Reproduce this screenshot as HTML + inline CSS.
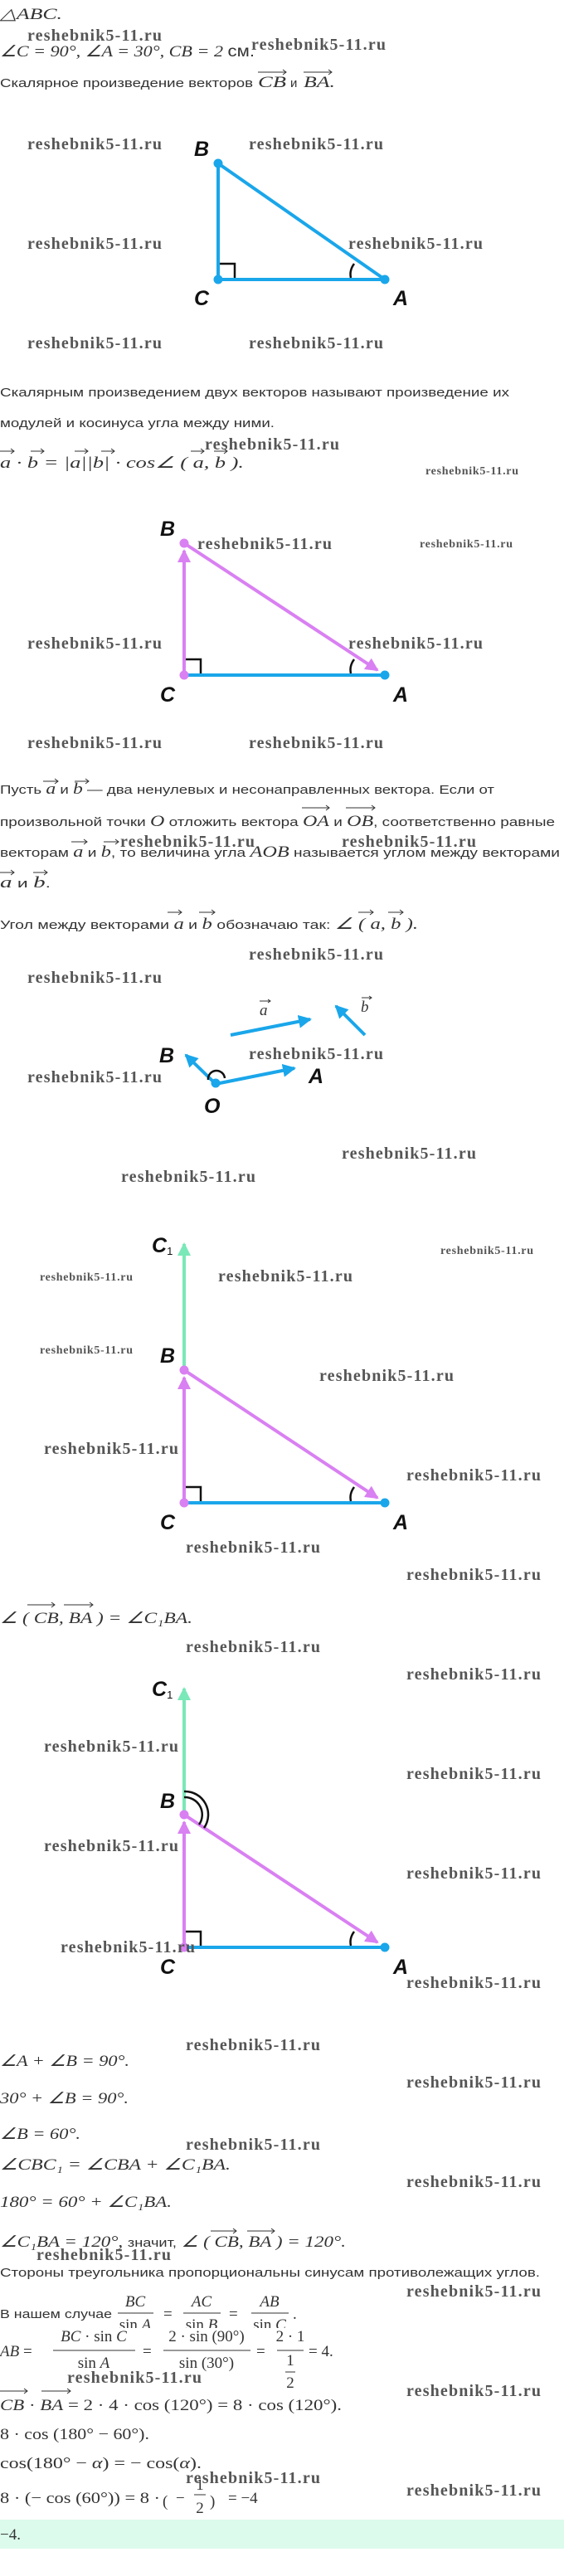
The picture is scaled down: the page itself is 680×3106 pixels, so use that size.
<!DOCTYPE html>
<html><head><meta charset="utf-8">
<style>
html,body{margin:0;padding:0;background:#fff;}
svg{display:block;}
.s{font-family:"Liberation Sans",sans-serif;font-size:15px;fill:#333;}
.m{font-family:"Liberation Serif",serif;font-size:19px;fill:#333;}
.i{font-style:italic;}
.w{font-family:"Liberation Serif",serif;font-weight:bold;font-size:20px;fill:#555;}
.ws{font-family:"Liberation Serif",serif;font-weight:bold;font-size:14px;fill:#555;}
.l{font-family:"Liberation Sans Narrow","Liberation Sans",sans-serif;font-weight:bold;font-style:italic;font-size:25px;fill:#111;}
.v{stroke:#333;stroke-width:1;fill:none;}
</style></head><body>
<svg width="680" height="3106" viewBox="0 0 680 3106" xmlns="http://www.w3.org/2000/svg">
<defs>
<marker id="hb" markerWidth="4" markerHeight="4" refX="3.5" refY="2" orient="auto" markerUnits="strokeWidth"><path d="M0,0 L4,2 L0,4 Z" fill="#1aa6ea"/></marker>
<marker id="hp" markerWidth="4" markerHeight="4" refX="3.5" refY="2" orient="auto" markerUnits="strokeWidth"><path d="M0,0 L4,2 L0,4 Z" fill="#d980f2"/></marker>
<marker id="hg" markerWidth="4" markerHeight="4" refX="3.5" refY="2" orient="auto" markerUnits="strokeWidth"><path d="M0,0 L4,2 L0,4 Z" fill="#7ae8b8"/></marker>
<clipPath id="c1"><rect x="0" y="2760" width="680" height="47"/></clipPath>
<clipPath id="c2"><rect x="0" y="2807" width="680" height="72"/></clipPath>
</defs>

<text class="m i" x="0" y="23" textLength="75" lengthAdjust="spacingAndGlyphs">△ABC.</text>
<text class="m i" x="0" y="68" textLength="307" lengthAdjust="spacingAndGlyphs">∠C = 90°, ∠A = 30°, CB = 2 <tspan font-style="normal" font-family="Liberation Sans">см.</tspan></text>
<text class="s" x="0" y="105" textLength="305" lengthAdjust="spacingAndGlyphs">Скалярное произведение векторов</text>
<text class="m i" x="311" y="105" textLength="34" lengthAdjust="spacingAndGlyphs">CB</text>
<text class="s" x="350" y="105">и</text>
<text class="m i" x="366" y="105" textLength="38" lengthAdjust="spacingAndGlyphs">BA.</text>
<path class="v" d="M311 87 h34 m-4 -3 l4 3 l-4 3 M366 87 h34 m-4 -3 l4 3 l-4 3"/>

<g stroke="#1aa6ea" stroke-width="4" fill="none">
<line x1="263" y1="197" x2="263" y2="337"/><line x1="263" y1="337" x2="464" y2="337"/><line x1="263" y1="197" x2="464" y2="337"/>
</g>
<g fill="#1aa6ea"><circle cx="263" cy="197" r="5.5"/><circle cx="263" cy="337" r="5.5"/><circle cx="464" cy="337" r="5.5"/></g>
<path d="M265 318 h18 v17" stroke="#111" stroke-width="2.5" fill="none"/>
<path d="M427 318 Q421 326 423 335" stroke="#111" stroke-width="2.5" fill="none"/>
<text class="l" x="234" y="188">B</text><text class="l" x="234" y="368">C</text><text class="l" x="474" y="368">A</text>

<text class="s" x="0" y="478" textLength="614" lengthAdjust="spacingAndGlyphs">Скалярным произведением двух векторов называют произведение их</text>
<text class="s" x="0" y="515" textLength="331" lengthAdjust="spacingAndGlyphs">модулей и косинуса угла между ними.</text>
<text class="m i" x="0" y="564" textLength="294" lengthAdjust="spacingAndGlyphs">a · b = |a||b| · cos∠ ( a, b ).</text>
<path class="v" d="M0 544 h17 m-4 -3 l4 3 l-4 3 M37 544 h16 m-4 -3 l4 3 l-4 3 M90 544 h16 m-4 -3 l4 3 l-4 3 M122 544 h16 m-4 -3 l4 3 l-4 3 M230 544 h16 m-4 -3 l4 3 l-4 3 M258 544 h16 m-4 -3 l4 3 l-4 3"/>

<line x1="222" y1="814" x2="464" y2="814" stroke="#1aa6ea" stroke-width="4"/>
<line x1="222" y1="814" x2="222" y2="664" stroke="#d980f2" stroke-width="4" marker-end="url(#hp)"/>
<line x1="222" y1="655" x2="455" y2="808" stroke="#d980f2" stroke-width="4" marker-end="url(#hp)"/>
<circle cx="222" cy="655" r="5.5" fill="#d980f2"/><circle cx="222" cy="814" r="5.5" fill="#d980f2"/><circle cx="464" cy="814" r="5.5" fill="#1aa6ea"/>
<path d="M224 795 h18 v17" stroke="#111" stroke-width="2.5" fill="none"/>
<path d="M427 795 Q421 803 423 812" stroke="#111" stroke-width="2.5" fill="none"/>
<text class="l" x="193" y="646">B</text><text class="l" x="193" y="846">C</text><text class="l" x="474" y="846">A</text>

<text class="s" x="0" y="957" textLength="596" lengthAdjust="spacingAndGlyphs">Пусть <tspan class="m i">a</tspan> и <tspan class="m i">b</tspan> — два ненулевых и несонаправленных вектора. Если от</text>
<path class="v" d="M52 942 h18 m-4 -3 l4 3 l-4 3 M90 942 h17 m-4 -3 l4 3 l-4 3"/>
<text class="s" x="0" y="996" textLength="669" lengthAdjust="spacingAndGlyphs">произвольной точки <tspan class="m i">O</tspan> отложить вектора <tspan class="m i">OA</tspan> и <tspan class="m i">OB</tspan>, соответственно равные</text>
<path class="v" d="M364 974 h33 m-4 -3 l4 3 l-4 3 M417 974 h35 m-4 -3 l4 3 l-4 3"/>
<text class="s" x="0" y="1033" textLength="675" lengthAdjust="spacingAndGlyphs">векторам <tspan class="m i">a</tspan> и <tspan class="m i">b</tspan>, то величина угла <tspan class="m i">AOB</tspan> называется углом между векторами</text>
<path class="v" d="M86 1015 h19 m-4 -3 l4 3 l-4 3 M125 1015 h18 m-4 -3 l4 3 l-4 3"/>
<text class="s" x="0" y="1070" textLength="61" lengthAdjust="spacingAndGlyphs"><tspan class="m i">a</tspan> и <tspan class="m i">b</tspan>.</text>
<path class="v" d="M0 1052 h17 m-4 -3 l4 3 l-4 3 M40 1052 h17 m-4 -3 l4 3 l-4 3"/>
<text class="s" x="0" y="1120" textLength="504" lengthAdjust="spacingAndGlyphs">Угол между векторами <tspan class="m i">a</tspan> и <tspan class="m i">b</tspan> обозначаю так: <tspan class="m i">∠ ( a, b ).</tspan></text>
<path class="v" d="M202 1100 h17 m-4 -3 l4 3 l-4 3 M240 1100 h19 m-4 -3 l4 3 l-4 3 M432 1100 h18 m-4 -3 l4 3 l-4 3 M468 1100 h18 m-4 -3 l4 3 l-4 3"/>

<g stroke="#1aa6ea" stroke-width="4" marker-end="url(#hb)">
<line x1="278" y1="1248" x2="374" y2="1229"/>
<line x1="440" y1="1248" x2="405" y2="1213"/>
<line x1="260" y1="1307" x2="355" y2="1288"/>
<line x1="260" y1="1307" x2="224" y2="1272"/>
</g>
<circle cx="260" cy="1306" r="5.5" fill="#1aa6ea"/>
<path d="M251 1302 A9 9 0 0 1 271 1300" stroke="#111" stroke-width="2.5" fill="none"/>
<text class="m i" x="313" y="1224">a</text><path class="v" d="M313 1207 h13 m-3 -2 l3 2 l-3 2"/>
<text class="m i" x="435" y="1220">b</text><path class="v" d="M436 1203 h12 m-3 -2 l3 2 l-3 2"/>
<text class="l" x="192" y="1281">B</text><text class="l" x="372" y="1306">A</text><text class="l" x="246" y="1342">O</text>

<line x1="222" y1="1812" x2="464" y2="1812" stroke="#1aa6ea" stroke-width="4"/>
<line x1="222" y1="1652" x2="222" y2="1500" stroke="#7ae8b8" stroke-width="4" marker-end="url(#hg)"/>
<line x1="222" y1="1812" x2="222" y2="1661" stroke="#d980f2" stroke-width="4" marker-end="url(#hp)"/>
<line x1="222" y1="1652" x2="455" y2="1806" stroke="#d980f2" stroke-width="4" marker-end="url(#hp)"/>
<circle cx="222" cy="1652" r="5.5" fill="#d980f2"/><circle cx="222" cy="1812" r="5.5" fill="#d980f2"/><circle cx="464" cy="1812" r="5.5" fill="#1aa6ea"/>
<path d="M224 1793 h18 v17" stroke="#111" stroke-width="2.5" fill="none"/>
<path d="M427 1793 Q421 1801 423 1810" stroke="#111" stroke-width="2.5" fill="none"/>
<text class="l" x="183" y="1510">C<tspan font-size="13" font-style="normal" font-weight="normal" dy="3">1</tspan></text>
<text class="l" x="193" y="1643">B</text><text class="l" x="193" y="1844">C</text><text class="l" x="474" y="1844">A</text>

<text class="m i" x="0" y="1957" textLength="232" lengthAdjust="spacingAndGlyphs">∠ ( CB, BA ) = ∠C₁BA.</text>
<path class="v" d="M33 1935 h33 m-4 -3 l4 3 l-4 3 M77 1935 h35 m-4 -3 l4 3 l-4 3"/>

<line x1="222" y1="2348" x2="464" y2="2348" stroke="#1aa6ea" stroke-width="4"/>
<line x1="222" y1="2188" x2="222" y2="2036" stroke="#7ae8b8" stroke-width="4" marker-end="url(#hg)"/>
<line x1="222" y1="2348" x2="222" y2="2197" stroke="#d980f2" stroke-width="4" marker-end="url(#hp)"/>
<line x1="222" y1="2188" x2="455" y2="2342" stroke="#d980f2" stroke-width="4" marker-end="url(#hp)"/>
<circle cx="222" cy="2188" r="5.5" fill="#d980f2"/><circle cx="222" cy="2348" r="5.5" fill="#d980f2"/><circle cx="464" cy="2348" r="5.5" fill="#1aa6ea"/>
<path d="M222 2167 A21 21 0 0 1 240 2200 M222 2160 A28 28 0 0 1 246 2204" stroke="#111" stroke-width="2.5" fill="none"/>
<path d="M224 2329 h18 v17" stroke="#111" stroke-width="2.5" fill="none"/>
<path d="M427 2329 Q421 2337 423 2346" stroke="#111" stroke-width="2.5" fill="none"/>
<text class="l" x="183" y="2045">C<tspan font-size="13" font-style="normal" font-weight="normal" dy="3">1</tspan></text>
<text class="l" x="193" y="2180">B</text><text class="l" x="193" y="2380">C</text><text class="l" x="474" y="2380">A</text>

<text class="m i" x="0" y="2491" textLength="156" lengthAdjust="spacingAndGlyphs">∠A + ∠B = 90°.</text>
<text class="m i" x="0" y="2536" textLength="155" lengthAdjust="spacingAndGlyphs">30° + ∠B = 90°.</text>
<text class="m i" x="0" y="2579" textLength="97" lengthAdjust="spacingAndGlyphs">∠B = 60°.</text>
<text class="m i" x="0" y="2616" textLength="278" lengthAdjust="spacingAndGlyphs">∠CBC₁ = ∠CBA + ∠C₁BA.</text>
<text class="m i" x="0" y="2661" textLength="207" lengthAdjust="spacingAndGlyphs">180° = 60° + ∠C₁BA.</text>
<text class="m i" x="0" y="2709" textLength="417" lengthAdjust="spacingAndGlyphs">∠C₁BA = 120°, <tspan font-family="Liberation Sans" font-style="normal" font-size="15">значит,</tspan> ∠ ( CB, BA ) = 120°.</text>
<path class="v" d="M254 2690 h31 m-4 -3 l4 3 l-4 3 M298 2690 h33 m-4 -3 l4 3 l-4 3"/>
<text class="s" x="0" y="2745" textLength="651" lengthAdjust="spacingAndGlyphs">Стороны треугольника пропорциональны синусам противолежащих углов.</text>

<text class="s" x="0" y="2795" textLength="135" lengthAdjust="spacingAndGlyphs">В нашем случае</text>
<g class="m" clip-path="url(#c1)" text-anchor="middle">
<text x="163" y="2781" class="i">BC</text><text x="163" y="2809">sin <tspan class="i">A</tspan></text>
<text x="243" y="2781" class="i">AC</text><text x="243" y="2809">sin <tspan class="i">B</tspan></text>
<text x="325" y="2781" class="i">AB</text><text x="325" y="2809">sin <tspan class="i">C</tspan></text>
</g>
<g stroke="#333" stroke-width="1"><line x1="142" y1="2789" x2="185" y2="2789"/><line x1="221" y1="2789" x2="266" y2="2789"/><line x1="303" y1="2789" x2="348" y2="2789"/></g>
<text class="m" x="197" y="2796">=</text><text class="m" x="276" y="2796">=</text><text class="m" x="353" y="2796">.</text>

<g clip-path="url(#c2)">
<text class="m" x="0" y="2841"><tspan class="i">AB</tspan> =</text>
<g class="m" text-anchor="middle">
<text x="113" y="2823"><tspan class="i">BC</tspan> · sin <tspan class="i">C</tspan></text><text x="113" y="2855">sin <tspan class="i">A</tspan></text>
<text x="249" y="2823">2 · sin (90°)</text><text x="249" y="2855">sin (30°)</text>
<text x="350" y="2823">2 · 1</text><text x="350" y="2852">1</text><text x="350" y="2879">2</text>
</g>
<g stroke="#333" stroke-width="1"><line x1="64" y1="2834" x2="163" y2="2834"/><line x1="197" y1="2834" x2="302" y2="2834"/><line x1="334" y1="2834" x2="366" y2="2834"/><line x1="344" y1="2860" x2="356" y2="2860"/></g>
<text class="m" x="172" y="2841">=</text><text class="m" x="309" y="2841">=</text><text class="m" x="372" y="2841">= 4.</text>
</g>

<text class="m" x="0" y="2906" textLength="412" lengthAdjust="spacingAndGlyphs"><tspan class="i">CB</tspan> · <tspan class="i">BA</tspan> = 2 · 4 · cos (120°) = 8 · cos (120°).</text>
<path class="v" d="M0 2883 h33 m-4 -3 l4 3 l-4 3 M50 2883 h35 m-4 -3 l4 3 l-4 3"/>
<text class="m" x="0" y="2941" textLength="180" lengthAdjust="spacingAndGlyphs">8 · cos (180° − 60°).</text>
<text class="m" x="0" y="2976" textLength="243" lengthAdjust="spacingAndGlyphs">cos(180° − <tspan class="i">α</tspan>) = − cos(<tspan class="i">α</tspan>).</text>
<text class="m" x="0" y="3018" textLength="193" lengthAdjust="spacingAndGlyphs">8 · (− cos (60°)) = 8 ·</text>
<text class="m" x="196" y="3022" font-size="40">(</text>
<text class="m" x="212" y="3018">−</text>
<text class="m" x="241" y="3002" text-anchor="middle">1</text><line x1="234" y1="3008" x2="248" y2="3008" stroke="#333"/><text class="m" x="241" y="3030" text-anchor="middle">2</text>
<text class="m" x="253" y="3022" font-size="40">)</text>
<text class="m" x="275" y="3018">= −4</text>

<rect x="0" y="3038" width="680" height="35" fill="#dcfbec"/>
<text class="m" x="0" y="3062">−4.</text>

<g class="w">
<text x="33" y="49" textLength="162">reshebnik5-11.ru</text>
<text x="303" y="60" textLength="162">reshebnik5-11.ru</text>
<text x="33" y="180" textLength="162">reshebnik5-11.ru</text>
<text x="300" y="180" textLength="162">reshebnik5-11.ru</text>
<text x="33" y="300" textLength="162">reshebnik5-11.ru</text>
<text x="420" y="300" textLength="162">reshebnik5-11.ru</text>
<text x="33" y="420" textLength="162">reshebnik5-11.ru</text>
<text x="300" y="420" textLength="162">reshebnik5-11.ru</text>
<text x="247" y="542" textLength="162">reshebnik5-11.ru</text>
<text x="238" y="662" textLength="162">reshebnik5-11.ru</text>
<text x="33" y="782" textLength="162">reshebnik5-11.ru</text>
<text x="420" y="782" textLength="162">reshebnik5-11.ru</text>
<text x="33" y="902" textLength="162">reshebnik5-11.ru</text>
<text x="300" y="902" textLength="162">reshebnik5-11.ru</text>
<text x="145" y="1021" textLength="162">reshebnik5-11.ru</text>
<text x="412" y="1021" textLength="162">reshebnik5-11.ru</text>
<text x="300" y="1157" textLength="162">reshebnik5-11.ru</text>
<text x="33" y="1185" textLength="162">reshebnik5-11.ru</text>
<text x="300" y="1277" textLength="162">reshebnik5-11.ru</text>
<text x="33" y="1305" textLength="162">reshebnik5-11.ru</text>
<text x="412" y="1397" textLength="162">reshebnik5-11.ru</text>
<text x="146" y="1425" textLength="162">reshebnik5-11.ru</text>
<text x="263" y="1545" textLength="162">reshebnik5-11.ru</text>
<text x="385" y="1665" textLength="162">reshebnik5-11.ru</text>
<text x="53" y="1753" textLength="162">reshebnik5-11.ru</text>
<text x="490" y="1785" textLength="162">reshebnik5-11.ru</text>
<text x="224" y="1872" textLength="162">reshebnik5-11.ru</text>
<text x="490" y="1905" textLength="162">reshebnik5-11.ru</text>
<text x="224" y="1992" textLength="162">reshebnik5-11.ru</text>
<text x="490" y="2025" textLength="162">reshebnik5-11.ru</text>
<text x="53" y="2112" textLength="162">reshebnik5-11.ru</text>
<text x="490" y="2145" textLength="162">reshebnik5-11.ru</text>
<text x="53" y="2232" textLength="162">reshebnik5-11.ru</text>
<text x="490" y="2265" textLength="162">reshebnik5-11.ru</text>
<text x="73" y="2354" textLength="162">reshebnik5-11.ru</text>
<text x="490" y="2397" textLength="162">reshebnik5-11.ru</text>
<text x="224" y="2472" textLength="162">reshebnik5-11.ru</text>
<text x="490" y="2517" textLength="162">reshebnik5-11.ru</text>
<text x="224" y="2592" textLength="162">reshebnik5-11.ru</text>
<text x="490" y="2637" textLength="162">reshebnik5-11.ru</text>
<text x="44" y="2725" textLength="162">reshebnik5-11.ru</text>
<text x="490" y="2769" textLength="162">reshebnik5-11.ru</text>
<text x="81" y="2873" textLength="162">reshebnik5-11.ru</text>
<text x="490" y="2889" textLength="162">reshebnik5-11.ru</text>
<text x="224" y="2994" textLength="162">reshebnik5-11.ru</text>
<text x="490" y="3009" textLength="162">reshebnik5-11.ru</text>
</g>
<g class="ws">
<text x="513" y="572" textLength="112">reshebnik5-11.ru</text>
<text x="506" y="660" textLength="112">reshebnik5-11.ru</text>
<text x="531" y="1512" textLength="112">reshebnik5-11.ru</text>
<text x="48" y="1544" textLength="112">reshebnik5-11.ru</text>
<text x="48" y="1632" textLength="112">reshebnik5-11.ru</text>
</g>
</svg>
</body></html>
